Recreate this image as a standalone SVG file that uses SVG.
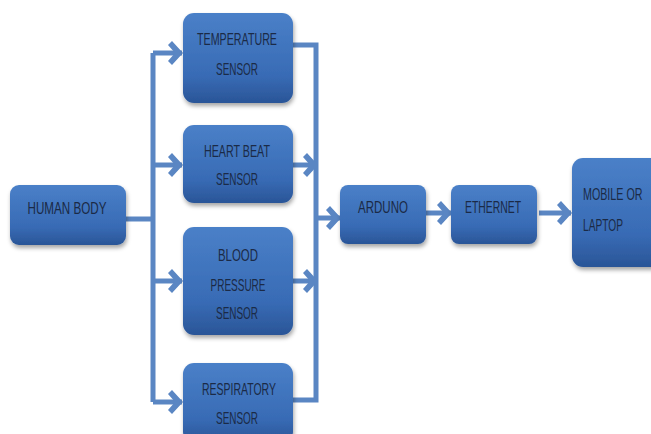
<svg xmlns="http://www.w3.org/2000/svg" width="651" height="434" viewBox="0 0 651 434">
<defs>
<linearGradient id="g" x1="0" y1="0" x2="0" y2="1">
<stop offset="0" stop-color="#4a80c8"/>
<stop offset="0.7" stop-color="#386bb5"/>
<stop offset="1" stop-color="#2a5597"/>
</linearGradient>
<filter id="sh" x="-10%" y="-10%" width="130%" height="130%">
<feDropShadow dx="1" dy="3" stdDeviation="2" flood-color="#000" flood-opacity="0.35"/>
</filter>
<marker id="ah" markerUnits="userSpaceOnUse" viewBox="0 0 15 24" refX="14" refY="12" markerWidth="15" markerHeight="24" orient="auto">
<path d="M4,0 L15,12 L4,24 L0,20 L7,12 L0,4 Z" fill="#5a86c3"/>
</marker>
<style>
.box{fill:url(#g);filter:url(#sh)}
.t{font-family:"Liberation Sans",Arial,sans-serif;font-size:17px;fill:#1b2a46;text-anchor:middle}
.l{text-anchor:start}
.c{fill:none;stroke:#5a86c3;stroke-width:5}
.a{marker-end:url(#ah)}
</style>
</defs>
<g id="connectors">
<path class="c" d="M126,219 H153"/>
<path class="c" d="M153,53 V402"/>
<path class="c a" d="M153,53 H182"/>
<path class="c a" d="M153,165 H182"/>
<path class="c a" d="M153,281 H182"/>
<path class="c a" d="M153,402 H182"/>
<path class="c" d="M293,45 H316 V400 H293"/>
<path class="c a" d="M293,165 H317"/>
<path class="c a" d="M293,281 H317"/>
<path class="c a" d="M316,218 H340"/>
<path class="c a" d="M426,213 H451"/>
<path class="c a" d="M539,213 H571"/>
</g>
<g id="human">
<rect class="box" x="10" y="185" width="116" height="60" rx="9"/>
<text class="t" x="67" y="214" textLength="79" lengthAdjust="spacingAndGlyphs">HUMAN BODY</text>
</g>
<g id="temperature">
<rect class="box" x="183" y="13" width="110" height="90" rx="11"/>
<text class="t" x="237" y="45" textLength="80" lengthAdjust="spacingAndGlyphs">TEMPERATURE</text>
<text class="t" x="237" y="75" textLength="42" lengthAdjust="spacingAndGlyphs">SENSOR</text>
</g>
<g id="heartbeat">
<rect class="box" x="183" y="125" width="110" height="78" rx="11"/>
<text class="t" x="237" y="157" textLength="66" lengthAdjust="spacingAndGlyphs">HEART BEAT</text>
<text class="t" x="237" y="185" textLength="42" lengthAdjust="spacingAndGlyphs">SENSOR</text>
</g>
<g id="bloodpressure">
<rect class="box" x="183" y="227" width="110" height="108" rx="11"/>
<text class="t" x="238" y="261" textLength="40" lengthAdjust="spacingAndGlyphs">BLOOD</text>
<text class="t" x="238" y="291" textLength="55" lengthAdjust="spacingAndGlyphs">PRESSURE</text>
<text class="t" x="237" y="319" textLength="42" lengthAdjust="spacingAndGlyphs">SENSOR</text>
</g>
<g id="respiratory">
<rect class="box" x="183" y="363" width="110" height="80" rx="11"/>
<text class="t" x="239" y="395" textLength="74" lengthAdjust="spacingAndGlyphs">RESPIRATORY</text>
<text class="t" x="237" y="424" textLength="42" lengthAdjust="spacingAndGlyphs">SENSOR</text>
</g>
<g id="arduino">
<rect class="box" x="340" y="185" width="86" height="59" rx="8"/>
<text class="t" x="383" y="213" textLength="50" lengthAdjust="spacingAndGlyphs">ARDUNO</text>
</g>
<g id="ethernet">
<rect class="box" x="451" y="185" width="86" height="59" rx="8"/>
<text class="t" x="493" y="213" textLength="56" lengthAdjust="spacingAndGlyphs">ETHERNET</text>
</g>
<g id="mobile">
<rect class="box" x="572" y="158" width="95" height="109" rx="11"/>
<text class="t l" transform="translate(583,200) scale(0.63,1)" x="0" y="0">MOBILE OR</text>
<text class="t l" transform="translate(583,231) scale(0.6,1)" x="0" y="0">LAPTOP</text>
</g>
</svg>
